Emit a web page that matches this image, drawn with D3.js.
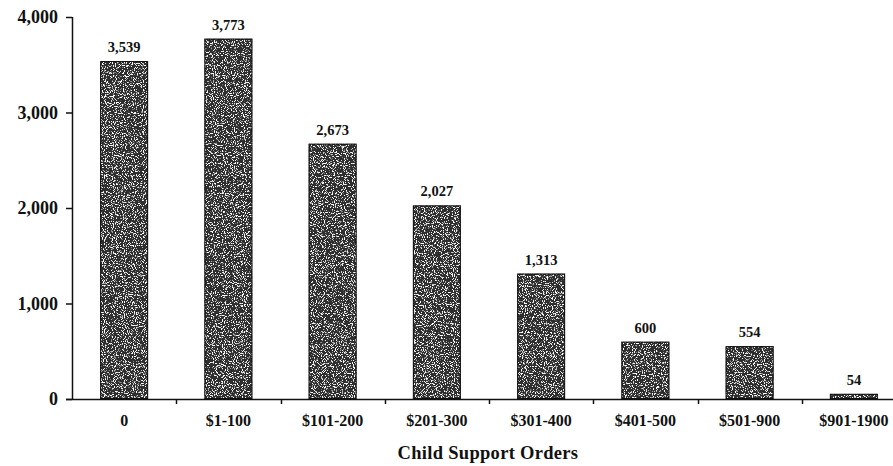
<!DOCTYPE html>
<meta charset="utf-8">
<style>
  body { margin: 0; background: #fff; }
  text { font-family: "Liberation Serif", "Times New Roman", serif; font-weight: bold; fill: #111; }
</style>
<svg width="893" height="466"></svg>
<script src="https://d3js.org/d3.v7.min.js"></script>
<script>
    var categories = ["0", "$1-100", "$101-200", "$201-300", "$301-400", "$401-500", "$501-900", "$901-1900"];
    var values = [3539, 3773, 2673, 2027, 1313, 600, 554, 54];
    var yTicks = [0, 1000, 2000, 3000, 4000];

    var svg = d3.select("svg");

    // plot area
    var x0 = 72, x1 = 906, yTop = 17, yBase = 399;

    var x = d3.scaleBand()
        .domain(categories)
        .range([x0, x1])
        .paddingInner(0.54)
        .paddingOuter(0.27);

    var y = d3.scaleLinear()
        .domain([0, 4000])
        .range([yBase, yTop]);

    // stipple texture for the bars
    var defs = svg.append("defs");
    var f = defs.append("filter").attr("id", "grain")
        .attr("x", 0).attr("y", 0).attr("width", 1).attr("height", 1);
    f.append("feTurbulence").attr("type", "fractalNoise")
        .attr("baseFrequency", 0.9).attr("numOctaves", 2).attr("seed", 3)
        .attr("result", "noise");
    f.append("feColorMatrix").attr("in", "noise").attr("type", "matrix")
        .attr("values", "0 0 0 0 1  0 0 0 0 1  0 0 0 0 1  0 0 0 9 -5.0")
        .attr("result", "specks");
    f.append("feComposite").attr("in", "specks").attr("in2", "SourceGraphic")
        .attr("operator", "in").attr("result", "sp");
    f.append("feMerge").selectAll("feMergeNode")
        .data(["SourceGraphic", "sp"]).enter()
        .append("feMergeNode").attr("in", function(d){ return d; });

    var bars = svg.append("g").attr("class", "bars")
        .selectAll("g")
        .data(values)
        .enter().append("g");

    bars.append("rect")
        .attr("x", function(d, i){ return x(categories[i]); })
        .attr("y", function(d){ return y(d); })
        .attr("width", x.bandwidth())
        .attr("height", function(d){ return y(0) - y(d); })
        .attr("fill", "#2e2e2e")
        .attr("filter", "url(#grain)");

    bars.append("rect")
        .attr("x", function(d, i){ return x(categories[i]) + 0.5; })
        .attr("y", function(d){ return y(d) + 0.5; })
        .attr("width", x.bandwidth() - 1)
        .attr("height", function(d){ return Math.max(0, y(0) - y(d) - 1); })
        .attr("fill", "none")
        .attr("stroke", "#111")
        .attr("stroke-width", 1);

    bars.append("text")
        .attr("x", function(d, i){ return x(categories[i]) + x.bandwidth() / 2; })
        .attr("y", function(d){ return y(d) - 9; })
        .attr("text-anchor", "middle")
        .style("font-size", "14.5px")
        .text(function(d){ return d3.format(",")(d); });

    // y axis
    var yAxis = svg.append("g")
        .attr("transform", "translate(" + x0 + ",0)")
        .call(d3.axisLeft(y).tickValues(yTicks).tickFormat(d3.format(",")).tickSize(6).tickPadding(8));
    yAxis.select(".domain").attr("stroke", "#111").attr("stroke-width", 1.5).attr("d", "M0.5," + yTop + "V" + yBase);
    yAxis.selectAll(".tick line").attr("stroke", "#111").attr("stroke-width", 1.5);
    yAxis.selectAll(".tick text").style("font-size", "18px").attr("fill", "#111");

    // x axis
    var xAxis = svg.append("g")
        .attr("transform", "translate(0," + yBase + ")")
        .call(d3.axisBottom(x).tickSize(0).tickPadding(16));
    xAxis.select(".domain").attr("stroke", "#111").attr("stroke-width", 1.5).attr("d", "M" + (x0 - 6) + ",0.5H893");
    xAxis.selectAll(".tick text").style("font-size", "16px").attr("fill", "#111");

    // tick marks between categories
    svg.append("g").selectAll("line")
        .data(categories.slice(1))
        .enter().append("line")
        .attr("x1", function(d){ return Math.round(x(d) - x.step() * x.paddingInner() / 2) + 0.5; })
        .attr("x2", function(d){ return Math.round(x(d) - x.step() * x.paddingInner() / 2) + 0.5; })
        .attr("y1", yBase)
        .attr("y2", yBase + 5)
        .attr("stroke", "#111")
        .attr("stroke-width", 1.5);

    svg.append("text")
        .attr("x", 488)
        .attr("y", 459)
        .attr("text-anchor", "middle")
        .style("font-size", "18.5px")
        .style("letter-spacing", "0.3px")
        .text("Child Support Orders");
</script>
